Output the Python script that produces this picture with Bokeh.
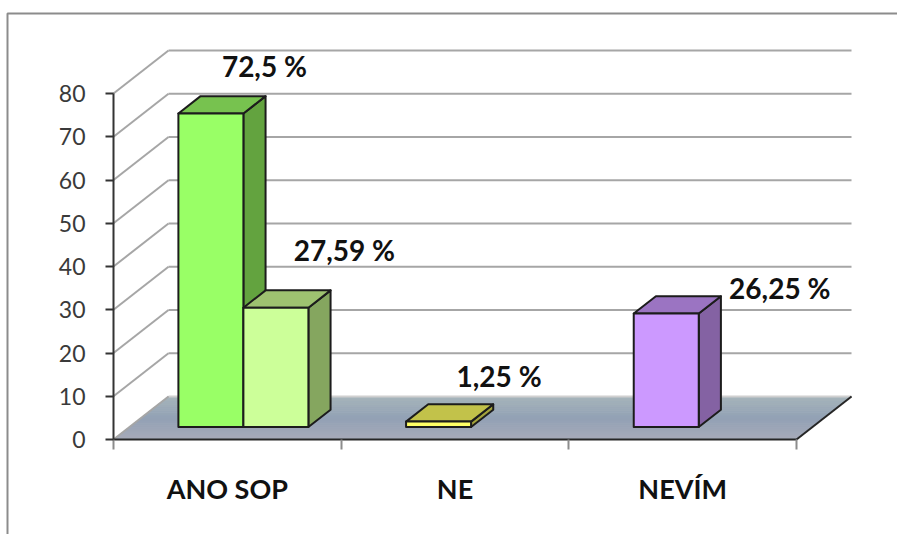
from bokeh.embed import file_html
from bokeh.models import FixedTicker
from bokeh.core.properties import value as font_value
from bokeh.plotting import figure
from bokeh.resources import INLINE

# Chart data
categories = ["ANO SOP", "NE", "NEVÍM"]
bar_values = [72.5, 27.59, 1.25, 26.25]
bar_category = [0, 0, 1, 2]
bar_slot = [0, 1, 0, 0]
value_ticks = [0, 10, 20, 30, 40, 50, 60, 70, 80]

# Face colours per bar: front, top, side
front_colors = ["#99ff66", "#ccff99", "#ffff66", "#cc99ff"]
top_colors = ["#77c24f", "#9ec270", "#c2c24a", "#9b74c2"]
side_colors = ["#63a33f", "#85a65f", "#a3a33c", "#8462a3"]

W, H = 897, 534
X0, Y0 = 113.0, 439.0         # canvas position of the axes origin
UNIT_X, UNIT_Y = 227.67, 4.325  # pixels per category and per value unit
DEPTH_X = 55 / UNIT_X         # oblique shift of the full floor depth
DEPTH_Y = 43 / UNIT_Y

p = figure(
    width=W, height=H, output_backend="svg", toolbar_location=None,
    x_range=(-X0 / UNIT_X, (W - X0) / UNIT_X),
    y_range=(-(H - Y0) / UNIT_Y, Y0 / UNIT_Y),
    min_border=0, outline_line_color=None, background_fill_color="white",
    border_fill_color="white",
)
p.grid.visible = False


def px(sx):
    return (sx - X0) / UNIT_X


def py(sy):
    return (Y0 - sy) / UNIT_Y


def project(x, y, depth):
    """Oblique projection: depth 0 is the front plane, 1 the back wall."""
    return x + depth * DEPTH_X, y + depth * DEPTH_Y


# Outer chart border (left and top edges only)
p.line([px(7), px(7), px(W)], [py(H), py(13), py(13)],
       line_color="#8c8c8c", line_width=2)

# Floor with a vertical colour gradient built from thin bands
STOPS = [(0.0, (168, 171, 185)), (0.5, (146, 161, 181)), (1.0, (166, 180, 186))]


def floor_color(t):
    for (t0, c0), (t1, c1) in zip(STOPS, STOPS[1:]):
        if t <= t1:
            f = (t - t0) / (t1 - t0)
            return "#%02x%02x%02x" % tuple(round(a + (b - a) * f) for a, b in zip(c0, c1))
    return "#a6b4ba"


BANDS = 22
xs, ys, cols = [], [], []
for i in range(BANDS):
    d0, d1 = i / BANDS, (i + 1) / BANDS
    corners = [project(0, 0, d0), project(3, 0, d0), project(3, 0, d1), project(0, 0, d1)]
    xs.append([c[0] for c in corners])
    ys.append([c[1] for c in corners])
    cols.append(floor_color((d0 + d1) / 2))
p.patches(xs, ys, fill_color=cols, line_color=cols, line_width=1)

# Gridlines running along the side wall and the back wall
for v in value_ticks:
    a = project(0, v, 0)
    b = project(0, v, 1)
    c = project(3, v, 1)
    color = "#d0d0d0" if v == 0 else "#a6a6a6"
    p.line([b[0], c[0]], [b[1], c[1]], line_color=color, line_width=2)
    p.line([a[0], b[0]], [a[1], b[1]], line_color="#a6a6a6", line_width=2)

# Dark right-hand edge of the floor
e0, e1 = project(3, 0, 0), project(3, 0, 1)
p.line([e0[0], e1[0]], [e0[1], e1[1]], line_color="#262626", line_width=2)

# Bars, painted left to right so later ones overlap earlier ones
GAP, BAR_W = 0.215, 0.2855
D_FRONT, D_BACK = 0.29, 0.693
for i, v in enumerate(bar_values):
    x0 = bar_category[i] + GAP + bar_slot[i] * BAR_W
    x1 = x0 + BAR_W
    faces = [
        ([(x1, 0, D_FRONT), (x1, 0, D_BACK), (x1, v, D_BACK), (x1, v, D_FRONT)], side_colors[i]),
        ([(x0, v, D_FRONT), (x1, v, D_FRONT), (x1, v, D_BACK), (x0, v, D_BACK)], top_colors[i]),
        ([(x0, 0, D_FRONT), (x1, 0, D_FRONT), (x1, v, D_FRONT), (x0, v, D_FRONT)], front_colors[i]),
    ]
    for pts, color in faces:
        q = [project(*pt) for pt in pts]
        p.patch([c[0] for c in q], [c[1] for c in q], fill_color=color,
                line_color="#1c1c1c", line_width=2, line_join="round")

# Value labels placed by hand around the bars (shifts in canvas pixels)
label_dx = [21, 36, 28, 81]
label_dy = [47, 58, 46, 25]
for i, v in enumerate(bar_values):
    x0 = bar_category[i] + GAP + bar_slot[i] * BAR_W
    fx, fy = project(x0 + BAR_W, v, D_FRONT)
    p.text([fx + label_dx[i] / UNIT_X], [fy + label_dy[i] / UNIT_Y],
           text=[f"{v:g}".replace(".", ",") + " %"],
           text_font=font_value("Lato"), text_font_style="bold",
           text_font_size="28px", text_color="#111111",
           text_align="center", text_baseline="middle")

# Value axis pinned at the left of the plotting space
yax = p.yaxis[0]
yax.fixed_location = 0
yax.bounds = (0, 80)
yax.ticker = FixedTicker(ticks=value_ticks)
yax.minor_tick_line_color = None
yax.major_tick_in = 0
yax.major_tick_out = 8
yax.major_tick_line_color = "#333333"
yax.major_tick_line_width = 2
yax.axis_line_color = "#333333"
yax.axis_line_width = 2
yax.major_label_text_font = "Lato"
yax.major_label_text_font_size = "23px"
yax.major_label_text_color = "#3a3a3a"
yax.major_label_standoff = 20

# Category axis: names centred in each slot, boundary marks as minor ticks
xax = p.xaxis[0]
xax.fixed_location = 0
xax.bounds = (0, 3)
name_ticks = [k + 0.5 for k in range(len(categories))]
xax.ticker = FixedTicker(ticks=name_ticks, minor_ticks=[0, 1, 2, 3])
xax.major_label_overrides = {t: c for t, c in zip(name_ticks, categories)}
xax.major_tick_line_color = None
xax.major_tick_in = 0
xax.major_tick_out = 0
xax.minor_tick_in = 0
xax.minor_tick_out = 10
xax.minor_tick_line_color = "#8c8c8c"
xax.minor_tick_line_width = 2
xax.axis_line_color = "#262626"
xax.axis_line_width = 2
xax.major_label_standoff = 22
xax.major_label_text_font = "Lato"
xax.major_label_text_font_style = "bold"
xax.major_label_text_font_size = "27px"
xax.major_label_text_color = "#111111"

open("out.html", "w").write(file_html(p, INLINE))
